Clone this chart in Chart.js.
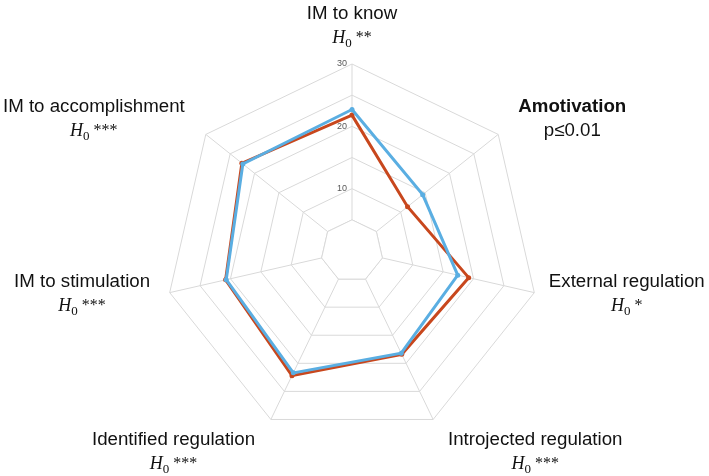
<!DOCTYPE html>
<html>
<head>
<meta charset="utf-8">
<script src="https://cdn.jsdelivr.net/npm/chart.js@4/dist/chart.umd.min.js"></script>
<style>
  body { margin: 0; background: #fff; }
  canvas { display: block; }
</style>
</head>
<body>
<canvas id="radar-chart" width="709" height="476"></canvas>
<script>
// categories, clockwise from the top
const categories = [
    "IM to know",
    "Amotivation",
    "External regulation",
    "Introjected regulation",
    "Identified regulation",
    "IM to stimulation",
    "IM to accomplishment",
];
// second line under each category ("H0 " is drawn as a math H with subscript 0)
const categoryNotes = ["H0 **", "p≤0.01", "H0 *", "H0 ***", "H0 ***", "H0 ***", "H0 ***"];
const boldCategories = ["Amotivation"];

const blueValues = [22.7, 14.5, 17.4, 18.2, 21.7, 20.7, 22.4];
const orangeValues = [21.8, 11.4, 19.2, 18.4, 22.2, 20.8, 22.6];

const tickLabels = [10, 20, 30];

const gridColor = "#d9d9d9";
const sansFont = "'Liberation Sans', Arial, sans-serif";
const serifFont = "'Liberation Serif', 'Times New Roman', serif";

// spokes start at the first ring in the original, and tick labels sit left of the axis
const innerRingPlugin = {
    id: "innerRing",
    beforeDatasetsDraw(chart) {
        const scale = chart.scales.r;
        const ctx = chart.ctx;
        const d = scale.getDistanceFromCenterForValue(5);
        ctx.save();
        ctx.beginPath();
        for (let i = 0; i < categories.length; i++) {
            const p = scale.getPointPosition(i, d);
            if (i === 0) ctx.moveTo(p.x, p.y); else ctx.lineTo(p.x, p.y);
        }
        ctx.closePath();
        ctx.fillStyle = "#fff";
        ctx.fill();
        ctx.strokeStyle = gridColor;
        ctx.lineWidth = 1;
        ctx.stroke();

        ctx.font = "9px " + sansFont;
        ctx.fillStyle = "#595959";
        ctx.textAlign = "right";
        ctx.textBaseline = "middle";
        tickLabels.forEach(v => {
            const p = scale.getPointPosition(0, scale.getDistanceFromCenterForValue(v));
            ctx.fillText(String(v), p.x - 5, p.y);
        });
        ctx.restore();
    },
};

// category labels, drawn by hand so the second line can mix fonts
const labelNudge = [[0, -27], [6, -11], [-3, -10], [7, 9], [-8, 9], [-2, -10], [-7, -11]];

const categoryLabelPlugin = {
    id: "categoryLabels",
    afterDraw(chart) {
        const scale = chart.scales.r;
        const ctx = chart.ctx;
        ctx.save();
        ctx.fillStyle = "#111";
        ctx.textBaseline = "alphabetic";
        categories.forEach((name, i) => {
            const p = scale.getPointPosition(i, scale.drawingArea + 18);
            const x0 = p.x + labelNudge[i][0];
            const y0 = p.y + labelNudge[i][1];
            const bold = boldCategories.includes(name);
            ctx.font = (bold ? "bold " : "") + "18.7px " + sansFont;
            const w1 = ctx.measureText(name).width;
            let cx;
            if (Math.abs(p.x - scale.xCenter) < 2) cx = x0;
            else if (p.x > scale.xCenter) cx = x0 + w1 / 2;
            else cx = x0 - w1 / 2;
            ctx.textAlign = "center";
            ctx.fillText(name, cx, y0);

            const note = categoryNotes[i];
            const y1 = y0 + 24;
            if (note.startsWith("H0")) {
                const rest = note.slice(2);
                ctx.font = "italic 18px " + serifFont;
                const wH = ctx.measureText("H").width;
                ctx.font = "13px " + serifFont;
                const w0 = ctx.measureText("0").width;
                ctx.font = "16px " + serifFont;
                const wr = ctx.measureText(rest).width;
                let x = cx - (wH + w0 + wr) / 2;
                ctx.textAlign = "left";
                ctx.font = "italic 18px " + serifFont;
                ctx.fillText("H", x, y1);
                x += wH;
                ctx.font = "13px " + serifFont;
                ctx.fillText("0", x, y1 + 4);
                x += w0;
                ctx.font = "16px " + serifFont;
                ctx.fillText(rest, x, y1 - 1);
            } else {
                ctx.font = "18.7px " + sansFont;
                ctx.textAlign = "center";
                ctx.fillText(note, cx, y1);
            }
        });
        ctx.restore();
    },
};

const containerRadarChart = document.getElementById("radar-chart").getContext("2d");

const configRadar = {
    type: "radar",
    data: {
        labels: categories,
        datasets: [
            {
                label: "blue",
                data: blueValues,
                borderColor: "#5aaee2",
                backgroundColor: "#5aaee2",
                pointBackgroundColor: "#5aaee2",
                borderWidth: 3,
                pointRadius: 2.5,
                pointBorderWidth: 0,
                fill: false,
            },
            {
                label: "orange",
                data: orangeValues,
                borderColor: "#c8471d",
                backgroundColor: "#c8471d",
                pointBackgroundColor: "#c8471d",
                borderWidth: 3,
                pointRadius: 2.5,
                pointBorderWidth: 0,
                fill: false,
            },
        ],
    },
    options: {
        responsive: false,
        animation: false,
        layout: { padding: { top: 64, bottom: 38, left: 100, right: 105 } },
        plugins: {
            legend: { display: false },
            tooltip: { enabled: false },
        },
        scales: {
            r: {
                min: 0,
                max: 30,
                ticks: { stepSize: 5, display: false },
                grid: { color: gridColor, lineWidth: 1 },
                angleLines: { color: gridColor, lineWidth: 1 },
                pointLabels: { display: false },
            },
        },
    },
    plugins: [innerRingPlugin, categoryLabelPlugin],
};
const radarChart = new Chart(containerRadarChart, configRadar);
</script>
</body>
</html>
